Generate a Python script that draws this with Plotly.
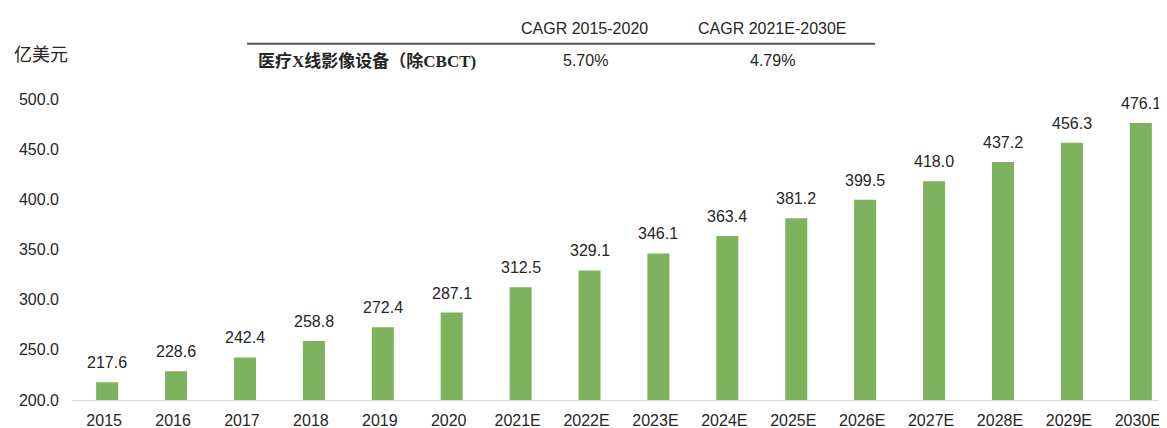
import plotly.graph_objects as go

categories = ["2015", "2016", "2017", "2018", "2019", "2020", "2021E", "2022E",
              "2023E", "2024E", "2025E", "2026E", "2027E", "2028E", "2029E", "2030E"]
values = [217.6, 228.6, 242.4, 258.8, 272.4, 287.1, 312.5, 329.1,
          346.1, 363.4, 381.2, 399.5, 418.0, 437.2, 456.3, 476.1]
y_ticks = [200, 250, 300, 350, 400, 450, 500]
unit_label = "亿美元"
table_cols = ["CAGR 2015-2020", "CAGR 2021E-2030E"]
table_row_label = "医疗X线影像设备（除CBCT)"
table_row_values = ["5.70%", "4.79%"]

OFF = 8  # page body margin in the browser
W, H = 1167 - OFF, 428 - OFF
# plot area in reference (viewport) pixels
PL, PR, PT, PB = 72, 1167, 98.5, 400.5
L, R, T, B = PL - OFF, 1167 - OFF - (PR - OFF), PT - OFF, H - (PB - OFF)
pw = PR - PL
ph = PB - PT

def px(x):
    return (x - PL) / pw

def py(y):
    return (PB - y) / ph

TXT = "#262626"
SANS = "Liberation Sans, Arial, sans-serif"

fig = go.Figure()
fig.add_trace(go.Bar(
    x=categories, y=values, width=0.32,
    marker=dict(color="#7DB35E", line=dict(width=0)),
    showlegend=False, hoverinfo="x+y",
))

annotations = []
for i, v in enumerate(values):
    annotations.append(dict(
        x=i, y=v, xref="x", yref="y", text=f"{v:.1f}", showarrow=False,
        yanchor="bottom", yshift=9, font=dict(family=SANS, size=16, color=TXT),
    ))

annotations.append(dict(
    x=px(12), y=py(52), xref="paper", yref="paper", text=unit_label,
    showarrow=False, xanchor="left", yanchor="middle",
    font=dict(family="Noto Sans CJK SC", size=18, color=TXT),
))
for cx, t in zip([584, 772.5], table_cols):
    annotations.append(dict(
        x=px(cx), y=py(28), xref="paper", yref="paper", text=t,
        showarrow=False, xanchor="center", yanchor="middle",
        font=dict(family=SANS, size=16, color=TXT),
    ))
for cx, t in zip([585, 772], table_row_values):
    annotations.append(dict(
        x=px(cx), y=py(60), xref="paper", yref="paper", text=t,
        showarrow=False, xanchor="center", yanchor="middle",
        font=dict(family=SANS, size=16, color=TXT),
    ))
annotations.append(dict(
    x=px(256), y=py(60), xref="paper", yref="paper", text="<b>" + table_row_label + "</b>",
    showarrow=False, xanchor="left", yanchor="middle",
    font=dict(family="Liberation Serif, Noto Sans CJK SC", size=17, color=TXT),
))

fig.add_shape(type="line", xref="paper", yref="paper",
              x0=px(247), x1=px(875), y0=py(43), y1=py(43),
              line=dict(color="#555555", width=2))

fig.update_layout(
    width=W, height=H,
    margin=dict(l=L, r=R, t=T, b=B, pad=0),
    paper_bgcolor="white", plot_bgcolor="white",
    annotations=annotations,
    xaxis=dict(
        type="category", range=[-0.51, 15.38],
        showgrid=False, showline=True, linecolor="#D9D9D9", linewidth=1,
        ticks="", tickfont=dict(family=SANS, size=16, color=TXT),
        ticklabelstandoff=6, ticklabelshift=-3,
    ),
    yaxis=dict(
        range=[200, 500], tickvals=y_ticks,
        ticktext=[f"{v:.1f}" for v in y_ticks],
        showgrid=False, zeroline=False, showline=False, ticks="",
        tickfont=dict(family=SANS, size=16, color=TXT),
        ticklabelstandoff=12,
    ),
)

fig.write_html("out.html")
